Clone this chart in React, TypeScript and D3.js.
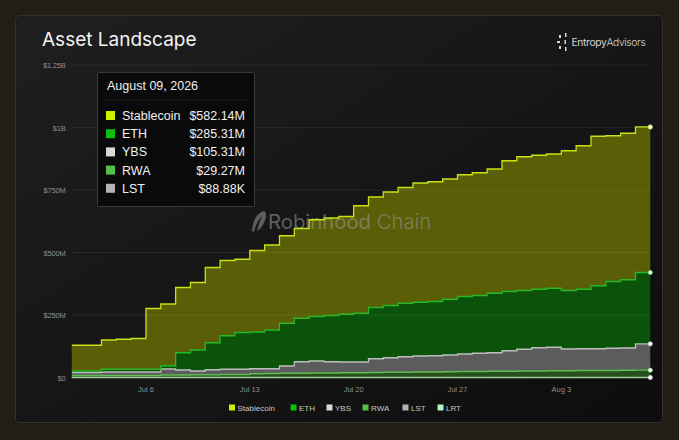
import React from "react";
import * as d3 from "d3";

const startDate = new Date(2026, 6, 1);
const endDate = new Date(2026, 7, 9);

// values in $M, one per day from Jul 1 to Aug 9 (step-before: value of day d fills (d-1, d])
const stablecoin = [103, 103, 103, 117, 120, 123, 243, 247, 261, 270, 301, 301, 293, 326, 340, 350, 359, 387, 390, 391, 430, 442, 454, 463, 477, 479, 481, 487, 491, 497, 523, 535, 536, 537, 559, 574, 598, 583, 586, 582.14];
const eth = [6, 6, 6, 11, 11, 11, 11, 13, 69, 84, 108, 134, 147, 147, 155, 171, 174, 178, 185, 191, 195, 205, 209, 214, 215, 217, 223, 230, 231, 238, 237, 235, 234, 236, 234, 238, 252, 267, 273, 285.31];
const ybs = [12, 12, 12, 14, 14, 14, 14, 24, 20, 15, 20, 21, 21, 20, 19, 29, 46, 48, 45, 43, 43, 55, 58, 62, 64, 65, 67, 70, 73, 74, 82, 87, 93, 94, 87, 87, 87, 89, 89, 105.31];
const rwa = [8, 8, 8, 8, 8, 8, 8, 10, 10, 11, 11, 12, 12, 15, 16, 17, 17, 18, 18, 19, 19, 20, 21, 21, 22, 22, 23, 24, 24, 25, 25, 26, 26, 27, 27, 28, 28, 28, 29, 29.27];
const lst = [0.05, 0.05, 0.05, 0.05, 0.05, 0.05, 0.05, 0.06, 0.06, 0.06, 0.06, 0.06, 0.06, 0.07, 0.07, 0.07, 0.07, 0.07, 0.07, 0.07, 0.07, 0.08, 0.08, 0.08, 0.08, 0.08, 0.08, 0.08, 0.08, 0.08, 0.08, 0.085, 0.085, 0.085, 0.085, 0.088, 0.088, 0.088, 0.088, 0.08888];

const seriesNames = ["Stablecoin", "ETH", "YBS", "RWA", "LST", "LRT"];
const swatchColors = ["#cff000", "#0cc00c", "#d9d9d9", "#55bf4b", "#b3b3b3", "#b5f3c0"];
const lineColors = ["#c8e214", "#26b826", "#bdbdbd", "#5dbd53", "#9fcc9a", "#b5f3c0"];
const fillColors = ["#5a5e07", "#0b530b", "#5c5c5c", "#27501d", "#2a2a2a", "#2a2a2a"];

const yTicks = [0, 250, 500, 750, 1000, 1250];
const yTickLabels = ["$0", "$250M", "$500M", "$750M", "$1B", "$1.25B"];

const W = 679;
const H = 440;
const plotLeft = 71.8;
const plotRight = 650.3;
const plotTop = 65;
const plotBottom = 377.5;

function fmtVal(v: number) {
  if (v >= 1) return `$${v.toFixed(2)}M`;
  return `$${(v * 1000).toFixed(2)}K`;
}

export default function App() {
  const dates = d3.timeDay.range(startDate, d3.timeDay.offset(endDate, 1));
  const x = d3.scaleTime().domain([startDate, endDate]).range([plotLeft, plotRight]);
  const y = d3.scaleLinear().domain([0, 1250]).range([plotBottom, plotTop]);

  const rows = dates.map((dt, i) => ({
    date: dt,
    Stablecoin: stablecoin[i],
    ETH: eth[i],
    YBS: ybs[i],
    RWA: rwa[i],
    LST: lst[i],
  }));

  // stack from bottom: LST, RWA, YBS, ETH, Stablecoin
  const stackKeys = ["LST", "RWA", "YBS", "ETH", "Stablecoin"];
  const stacked = d3.stack<any>().keys(stackKeys)(rows);

  const area = d3
    .area<any>()
    .curve(d3.curveStepBefore)
    .x((d) => x(d.data.date))
    .y0((d) => y(d[0]))
    .y1((d) => y(d[1]));
  const line = d3
    .line<any>()
    .curve(d3.curveStepBefore)
    .x((d) => x(d.data.date))
    .y((d) => y(d[1]));

  const xTicks = d3.timeMonday.range(startDate, endDate);
  const xFmt = d3.timeFormat("%b %-d");
  const last = rows[rows.length - 1];
  const tooltipTitle = d3.timeFormat("%B %d, %Y")(last.date);

  const legendX = [229, 290.5, 326.5, 362.5, 402.5, 437.5];

  const tipRows = ["Stablecoin", "ETH", "YBS", "RWA", "LST"];

  return (
    <div style={{ position: "fixed", left: 0, top: 0, width: W, height: H }}>
      <svg width={W} height={H} style={{ display: "block" }}>
        <defs>
          <linearGradient id="panelGrad" x1="0" y1="0" x2="1" y2="1">
            <stop offset="0" stopColor="#1f1f1f" />
            <stop offset="1" stopColor="#0d0d0d" />
          </linearGradient>
        </defs>
        <rect x={0} y={0} width={W} height={H} fill="#221e15" />
        <rect x={15.5} y={15.5} width={647} height={407} rx={4} fill="url(#panelGrad)" stroke="#35302a" strokeWidth={1} />

        {/* title */}
        <text x={42} y={46} fill="#f2f2f2" fontFamily="Inter, 'Liberation Sans', sans-serif" fontSize={19} fontWeight={400}>
          Asset Landscape
        </text>

        {/* Entropy logo */}
        <g fill="#d9d9d9">
          <rect x={559} y={35} width={2} height={3} />
          <rect x={557} y={41} width={3} height={2} />
          <rect x={559} y={46} width={2} height={3} />
          <rect x={565} y={33} width={1.5} height={4} />
          <rect x={564.5} y={40} width={1.5} height={4} />
          <rect x={565} y={47} width={1.5} height={4} />
        </g>
        <text x={571.5} y={45.5} fill="#d6d6d6" fontFamily="Inter, 'Liberation Sans', sans-serif" fontSize={10.3} letterSpacing={-0.35}>
          Entropy<tspan fontWeight={300}>Advisors</tspan>
        </text>

        {/* y axis labels */}
        {yTicks.map((t, i) => (
          <text key={"yl" + i} x={65.5} y={y(t) + 3} textAnchor="end" fill="#8e8e8e" fontFamily="'Liberation Sans', Arial, sans-serif" fontSize={7.5} letterSpacing={-0.2}>
            {yTickLabels[i]}
          </text>
        ))}

        {/* areas */}
        {stacked.map((s) => {
          const idx = seriesNames.indexOf(s.key);
          return <path key={"a" + s.key} d={area(s) || ""} fill={fillColors[idx]} />;
        })}

        {/* gridlines */}
        {yTicks.map((t, i) => (
          <line key={"g" + i} x1={plotLeft} x2={plotRight} y1={y(t)} y2={y(t)} stroke="#ffffff" strokeOpacity={0.07} strokeWidth={1} />
        ))}

        {/* watermark */}
        <g opacity={0.55}>
          <path d="M 264 211 C 257 213 253 220 252 231 L 254 232 C 255 226 258 220 262 216 C 260 221 258 226 257 231 C 262 228 265 222 266 216 C 266 213 265 211 264 211 Z" fill="#9a9a9a" />
          <text x={268} y={229} fill="#9a9a9a" fontFamily="Inter, 'Liberation Sans', sans-serif" fontSize={20.3} fontWeight={400}>
            Robinhood<tspan fontWeight={300}> Chain</tspan>
          </text>
        </g>

        {/* lines */}
        {stacked.map((s) => {
          const idx = seriesNames.indexOf(s.key);
          return <path key={"l" + s.key} d={line(s) || ""} fill="none" stroke={lineColors[idx]} strokeWidth={1.3} />;
        })}

        {/* end dots */}
        {stacked.map((s) => {
          const idx = seriesNames.indexOf(s.key);
          const p = s[s.length - 1];
          return <circle key={"c" + s.key} cx={x(p.data.date)} cy={y(p[1])} r={2.2} fill="#ffffff" stroke={lineColors[idx]} strokeWidth={0.6} />;
        })}

        {/* x axis labels */}
        {xTicks.map((t, i) => (
          <text key={"xl" + i} x={x(t)} y={392} textAnchor="middle" fill="#8e8e8e" fontFamily="'Liberation Sans', Arial, sans-serif" fontSize={7.5}>
            {xFmt(t)}
          </text>
        ))}

        {/* legend */}
        {seriesNames.map((n, i) => (
          <g key={"lg" + n}>
            <rect x={legendX[i]} y={404.5} width={6} height={6} fill={swatchColors[i]} />
            <text x={legendX[i] + 8.5} y={410.5} fill="#c8c8c8" fontFamily="'Liberation Sans', Arial, sans-serif" fontSize={8}>
              {n}
            </text>
          </g>
        ))}

        {/* tooltip */}
        <g>
          <rect x={97.5} y={72.5} width={157} height={134} fill="#0a0a0a" stroke="#3a3a3a" strokeWidth={1} rx={1} />
          <text x={107} y={90} fill="#f0f0f0" fontFamily="'Liberation Sans', Arial, sans-serif" fontSize={12.5}>
            {tooltipTitle}
          </text>
          <line x1={105} x2={247} y1={100} y2={100} stroke="#1e1e1e" />
          {tipRows.map((n, i) => {
            const idx = seriesNames.indexOf(n);
            const cy = 116 + i * 18.2;
            return (
              <g key={"tt" + n}>
                <rect x={106} y={cy - 5} width={9} height={9} fill={swatchColors[idx]} />
                <text x={122} y={cy + 4} fill="#f0f0f0" fontFamily="'Liberation Sans', Arial, sans-serif" fontSize={12.5}>
                  {n}
                </text>
                <text x={245} y={cy + 4} textAnchor="end" fill="#f0f0f0" fontFamily="'Liberation Sans', Arial, sans-serif" fontSize={12.5}>
                  {fmtVal((last as any)[n])}
                </text>
              </g>
            );
          })}
        </g>
      </svg>
    </div>
  );
}
